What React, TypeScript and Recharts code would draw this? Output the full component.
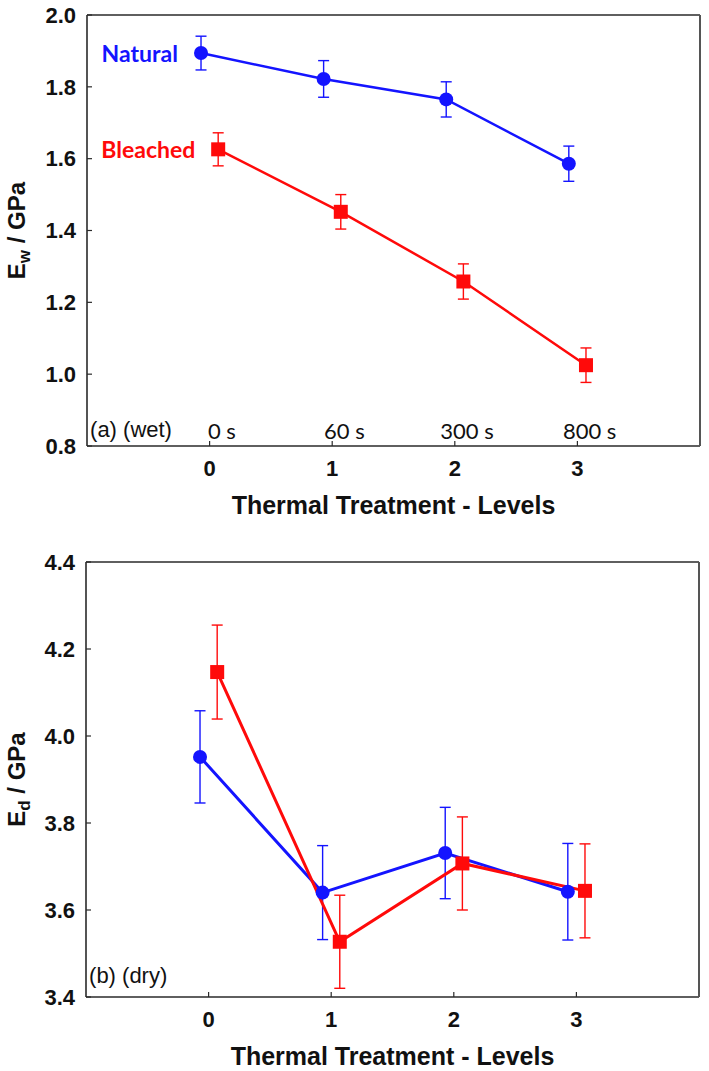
import { LineChart, Line, XAxis, YAxis, ErrorBar, ReferenceDot } from 'recharts'

const levels = [0, 1, 2, 3]
const timeLabels = ['0 s', '60 s', '300 s', '800 s']
const naturalShift = -0.07
const bleachedShift = 0.07

const wetNatural = [1.894, 1.822, 1.765, 1.586]
const wetNaturalErr = [0.047, 0.051, 0.049, 0.049]
const wetBleached = [1.626, 1.452, 1.258, 1.025]
const wetBleachedErr = [0.046, 0.048, 0.049, 0.048]

const dryNatural = [3.952, 3.64, 3.731, 3.642]
const dryNaturalErr = [0.106, 0.108, 0.105, 0.111]
const dryBleached = [4.147, 3.527, 3.707, 3.644]
const dryBleachedErr = [0.108, 0.107, 0.107, 0.108]

const wetTicks = [0.8, 1.0, 1.2, 1.4, 1.6, 1.8, 2.0]
const dryTicks = [3.4, 3.6, 3.8, 4.0, 4.2, 4.4]

const BLUE = '#1414ff'
const RED = '#ff0a0a'
const FRAME = '#2a2a2a'
const ARIAL = "'Liberation Sans', Arial, sans-serif"
const CALIBRI = "Lato, 'Open Sans', sans-serif"

const toSeries = (vals: number[], errs: number[], shift: number) =>
  vals.map((v, i) => ({ x: levels[i] + shift, y: v, err: errs[i] }))

const squareDot = (size: number) => (props: any) => {
  const { cx, cy, index } = props
  return <rect key={`sq-${index}`} x={cx - size / 2} y={cy - size / 2} width={size} height={size} fill={RED} />
}

const textLabel = (value: string, opts: { fill?: string; size: number; weight?: string; family: string; anchor?: string }) => ({
  content: ({ viewBox }: any) => (
    <text
      x={viewBox.x}
      y={viewBox.y}
      fill={opts.fill ?? '#111'}
      fontSize={opts.size}
      fontWeight={opts.weight ?? 'normal'}
      fontFamily={opts.family}
      textAnchor={opts.anchor ?? 'middle'}
      dominantBaseline="central"
    >
      {value}
    </text>
  ),
})

const yTitle = (sub: string) => ({
  content: ({ viewBox }: any) => {
    const cx = 25
    const cy = viewBox.y + viewBox.height / 2
    return (
      <text x={cx} y={cy} transform={`rotate(-90, ${cx}, ${cy})`} textAnchor="middle" fontSize={24} fontWeight="bold" fontFamily={ARIAL} fill="#111">
        E<tspan fontSize={17} dy={5}>{sub}</tspan>
        <tspan dy={-5}> / GPa</tspan>
      </text>
    )
  },
})

const xTitle = {
  content: ({ viewBox }: any) => (
    <text x={viewBox.x + viewBox.width / 2} y={viewBox.y + 59} textAnchor="middle" dominantBaseline="central" fontSize={25} fontWeight="bold" fontFamily={ARIAL} fill="#111">
      Thermal Treatment - Levels
    </text>
  ),
}

const tickStyle = { fill: '#111', fontSize: 22, fontWeight: 'bold', fontFamily: ARIAL }

const Panel = ({
  natural, naturalErr, bleached, bleachedErr, yDomain, yTicks, height, top, plotTop, plotBottom, left, right, sub, lineWidth, rightTicks, children,
}: any) => {
  const nat = toSeries(natural, naturalErr, naturalShift)
  const ble = toSeries(bleached, bleachedErr, bleachedShift)
  const rightDomainMax = rightTicks.length + 1
  return (
    <div style={{ position: 'absolute', left: 0, top }}>
      <LineChart width={709} height={height} margin={{ top: plotTop - 1, right: 0, bottom: 0, left: 0 }}>
        <XAxis xAxisId="b" dataKey="x" type="number" domain={[-1, 4]} ticks={levels} allowDataOverflow height={height - plotBottom}
          tickSize={-5} tickMargin={19} tick={tickStyle} stroke={FRAME} axisLine={{ stroke: FRAME, strokeWidth: 1.6 }} tickLine={{ stroke: FRAME, strokeWidth: 1.2 }} label={xTitle} />
        <XAxis xAxisId="t" dataKey="x" orientation="top" type="number" domain={[-1, 4]} ticks={levels} allowDataOverflow height={1}
          tickSize={-5} tick={false} axisLine={{ stroke: FRAME, strokeWidth: 1.6 }} tickLine={{ stroke: FRAME, strokeWidth: 1.2 }} />
        <YAxis yAxisId="l" type="number" domain={yDomain} ticks={yTicks} allowDataOverflow width={left}
          tickSize={-5} tickMargin={16} tick={tickStyle} tickFormatter={(v: number) => v.toFixed(1)}
          axisLine={{ stroke: FRAME, strokeWidth: 1.6 }} tickLine={{ stroke: FRAME, strokeWidth: 1.2 }} label={yTitle(sub)} />
        <YAxis yAxisId="r" orientation="right" type="number" domain={[0, rightDomainMax]} ticks={rightTicks} allowDataOverflow width={709 - right}
          tickSize={-5} tick={false} axisLine={{ stroke: '#555', strokeWidth: 2 }} tickLine={{ stroke: FRAME, strokeWidth: 1.2 }} />
        <Line xAxisId="b" yAxisId="l" data={nat} dataKey="y" stroke={BLUE} strokeWidth={lineWidth} isAnimationActive={false}
          dot={{ r: 7, fill: BLUE, stroke: BLUE, strokeWidth: 0 }} activeDot={false}>
          <ErrorBar dataKey="err" direction="y" width={5.5} stroke={BLUE} strokeWidth={1.4} isAnimationActive={false} />
        </Line>
        <Line xAxisId="b" yAxisId="l" data={ble} dataKey="y" stroke={RED} strokeWidth={lineWidth} isAnimationActive={false}
          dot={squareDot(14)} activeDot={false}>
          <ErrorBar dataKey="err" direction="y" width={5.5} stroke={RED} strokeWidth={1.4} isAnimationActive={false} />
        </Line>
        {children}
      </LineChart>
    </div>
  )
}

export default function App() {
  return (
    <div style={{ position: 'absolute', left: 0, top: 0, width: 709, height: 1071, background: '#fff' }}>
      <Panel natural={wetNatural} naturalErr={wetNaturalErr} bleached={wetBleached} bleachedErr={wetBleachedErr}
        yDomain={[0.8, 2.0]} yTicks={wetTicks} height={530} top={0} plotTop={15} plotBottom={446} left={87} right={700}
        sub="w" lineWidth={2.5} rightTicks={[1, 2, 3, 4, 5, 6, 7, 8, 9, 10, 11, 12]}>
        <ReferenceDot xAxisId="b" yAxisId="l" x={-0.57} y={1.894} r={0} fill="none" stroke="none"
          label={textLabel('Natural', { fill: BLUE, size: 23, weight: 'bold', family: CALIBRI })} />
        <ReferenceDot xAxisId="b" yAxisId="l" x={-0.5} y={1.628} r={0} fill="none" stroke="none"
          label={textLabel('Bleached', { fill: RED, size: 23, weight: 'bold', family: CALIBRI })} />
        <ReferenceDot xAxisId="b" yAxisId="l" x={-0.975} y={0.845} r={0} fill="none" stroke="none"
          label={textLabel('(a) (wet)', { size: 22, family: ARIAL, anchor: 'start' })} />
        {levels.map((lv, i) => (
          <ReferenceDot key={lv} xAxisId="b" yAxisId="l" x={lv + 0.1} y={0.843} r={0} fill="none" stroke="none"
            label={textLabel(timeLabels[i], { size: 22, family: CALIBRI })} />
        ))}
      </Panel>
      <Panel natural={dryNatural} naturalErr={dryNaturalErr} bleached={dryBleached} bleachedErr={dryBleachedErr}
        yDomain={[3.4, 4.4]} yTicks={dryTicks} height={541} top={530} plotTop={32} plotBottom={467} left={86} right={699}
        sub="d" lineWidth={3} rightTicks={[1, 2, 3, 4, 5, 6, 7, 8, 9, 10]}>
        <ReferenceDot xAxisId="b" yAxisId="l" x={-0.975} y={3.45} r={0} fill="none" stroke="none"
          label={textLabel('(b) (dry)', { size: 22, family: ARIAL, anchor: 'start' })} />
      </Panel>
    </div>
  )
}
